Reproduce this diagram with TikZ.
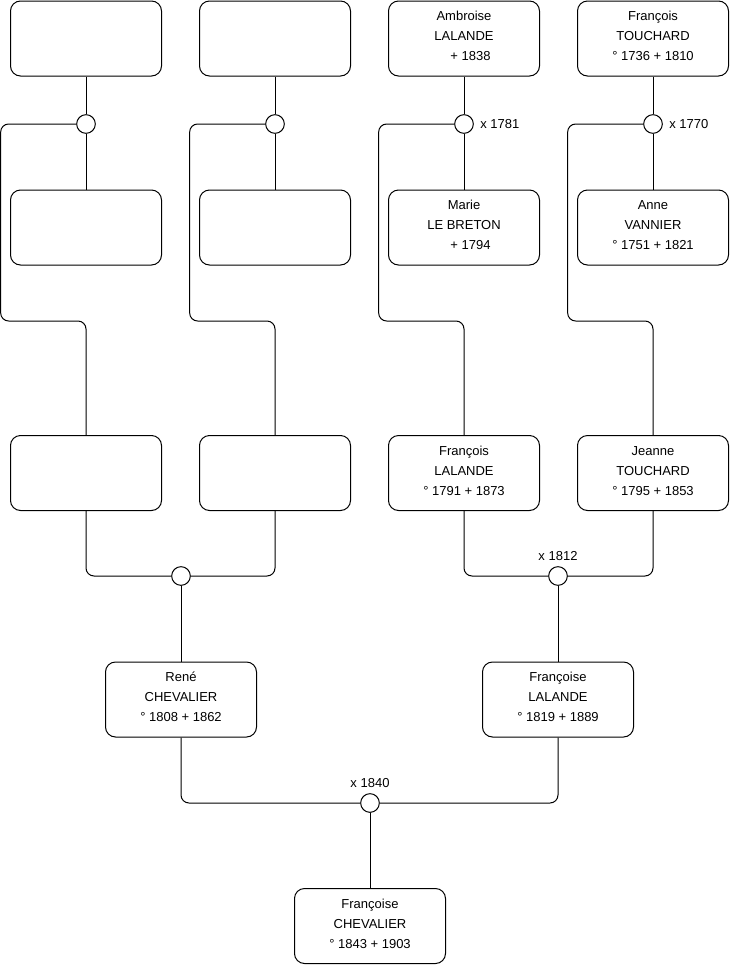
\documentclass[tikz,border=0pt]{standalone}
\usepackage{fontspec}
\setmainfont{Liberation Sans}
\usetikzlibrary{positioning}

\begin{document}
\begin{tikzpicture}[x=0.75pt,y=-0.75pt,line width=0.75pt,
        person/.style={draw,fill=white,rounded corners=7.5pt,minimum width=113.25pt,minimum height=56.25pt,inner sep=0pt,align=center,font=\fontsize{9.75}{15}\selectfont,execute at end node=\rule[-3.5pt]{0pt}{0pt}},
        wed/.style={draw,fill=white,circle,minimum size=14pt,inner sep=0pt},
        year/.style={inner sep=0pt,font=\fontsize{9.75}{11}\selectfont}]
        \useasboundingbox (0,0) rectangle (740,975);
        % great-grandparents
        \node[person] (p1) at (86,38.5) {};
        \node[person] (p2) at (275,38.5) {};
        \node[person] (p3) at (464,38.5) {Ambroise\\LALANDE\\\hspace*{1em}+ 1838};
        \node[person] (p4) at (653,38.5) {François\\TOUCHARD\\° 1736 + 1810};
        \node[wed] (w1) at (86,124) {};
        \node[wed] (w2) at (275,124) {};
        \node[wed] (w3) at (464,124) {};
        \node[wed] (w4) at (653,124) {};
        \node[year,right=4.5pt of w3] (y3) {x 1781};
        \node[year,right=4.5pt of w4] (y4) {x 1770};
        \node[person] (m1) at (86,227.5) {};
        \node[person] (m2) at (275,227.5) {};
        \node[person] (m3) at (464,227.5) {Marie\\LE BRETON\\\hspace*{1em}+ 1794};
        \node[person] (m4) at (653,227.5) {Anne\\VANNIER\\° 1751 + 1821};
        % grandparents
        \node[person] (c1) at (86,473) {};
        \node[person] (c2) at (275,473) {};
        \node[person] (c3) at (464,473) {François\\LALANDE\\° 1791 + 1873};
        \node[person] (c4) at (653,473) {Jeanne\\TOUCHARD\\° 1795 + 1853};
        \node[wed] (w5) at (181,576) {};
        \node[wed] (w6) at (558,576) {};
        \node[year,above=4pt of w6] (y6) {x 1812};
        % parents
        \node[person] (g1) at (181,699.5) {René\\CHEVALIER\\° 1808 + 1862};
        \node[person] (g2) at (558,699.5) {Françoise\\LALANDE\\° 1819 + 1889};
        \node[wed] (w7) at (370,803) {};
        \node[year,above=4pt of w7] (y7) {x 1840};
        \node[person] (f) at (370,926) {Françoise\\CHEVALIER\\° 1843 + 1903};

        \draw (p1) -- (w1) -- (m1);
        \draw (p2) -- (w2) -- (m2);
        \draw (p3) -- (w3) -- (m3);
        \draw (p4) -- (w4) -- (m4);
        \draw[rounded corners=6pt] (w1.west) -| ++(-75.5,197) -| (c1.north);
        \draw[rounded corners=6pt] (w2.west) -| ++(-75.5,197) -| (c2.north);
        \draw[rounded corners=6pt] (w3.west) -| ++(-75.5,197) -| (c3.north);
        \draw[rounded corners=6pt] (w4.west) -| ++(-75.5,197) -| (c4.north);
        \draw[rounded corners=6pt] (c1.south) |- (w5.west);
        \draw[rounded corners=6pt] (c2.south) |- (w5.east);
        \draw[rounded corners=6pt] (c3.south) |- (w6.west);
        \draw[rounded corners=6pt] (c4.south) |- (w6.east);
        \draw (w5) -- (g1);
        \draw (w6) -- (g2);
        \draw[rounded corners=6pt] (g1.south) |- (w7.west);
        \draw[rounded corners=6pt] (g2.south) |- (w7.east);
        \draw (w7) -- (f);
\end{tikzpicture}
\end{document}
